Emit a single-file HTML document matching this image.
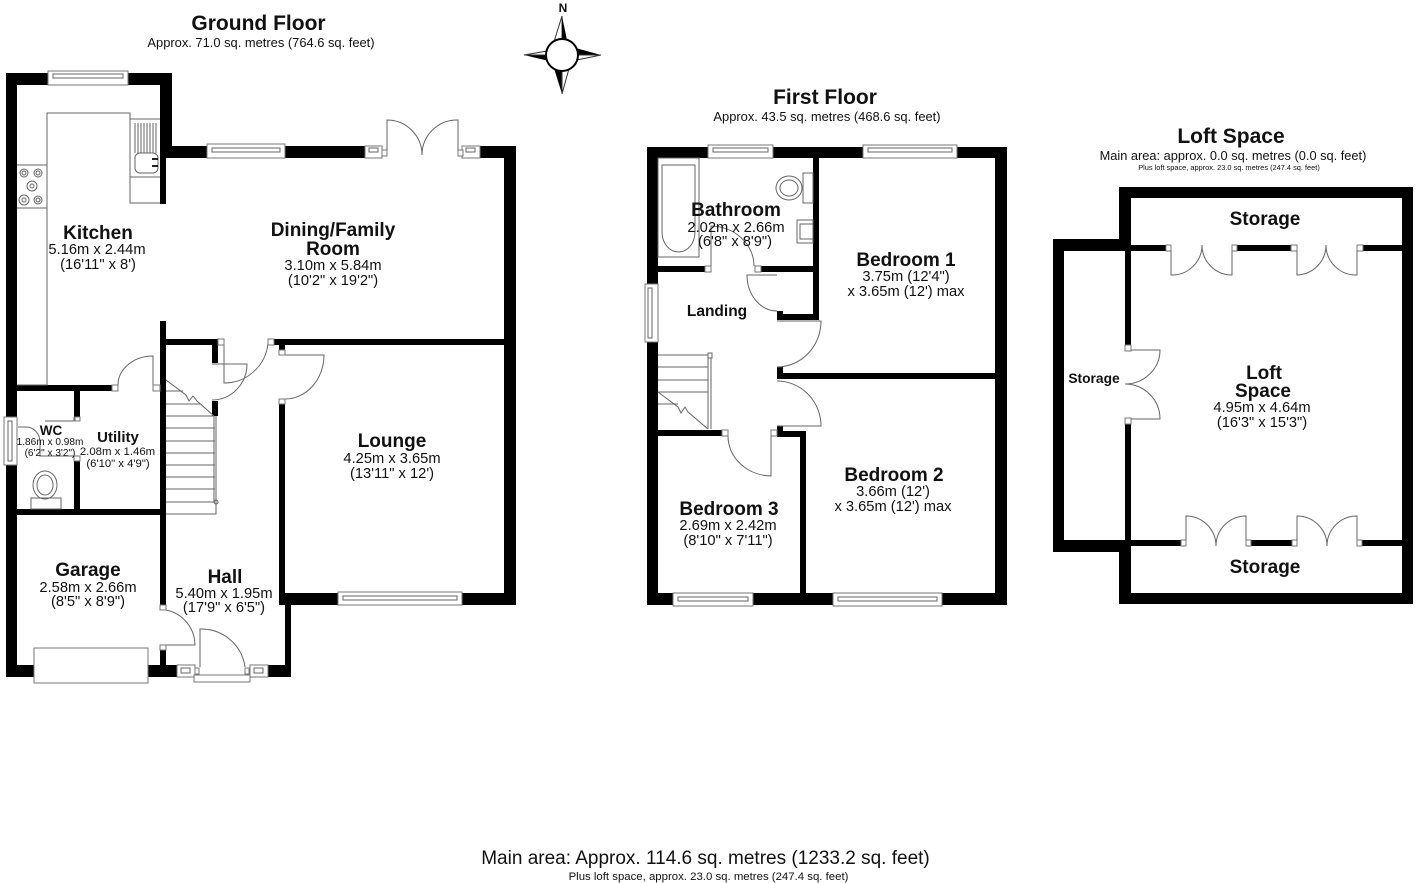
<!DOCTYPE html>
<html><head><meta charset="utf-8"><style>
html,body{margin:0;padding:0;background:#fff;width:1416px;height:883px;overflow:hidden}
svg{display:block}
text{font-family:"Liberation Sans",Arial,sans-serif;text-anchor:middle;fill:#111}
.r{font-weight:bold;font-size:19px}
.d{font-size:14.7px}
.l{fill:none;stroke:#666;stroke-width:1}
.w{fill:#000}
.f{fill:#fff;stroke:#777;stroke-width:1}
</style></head><body>
<svg width="1416" height="883" viewBox="0 0 1416 883" xmlns="http://www.w3.org/2000/svg">
<!-- GROUND FLOOR walls -->
<g class="w">
<rect x="6" y="73" width="11" height="604"/>
<rect x="6" y="73" width="166" height="12"/>
<rect x="160" y="73" width="12" height="85"/>
<rect x="160" y="146" width="6" height="58"/>
<rect x="160" y="146" width="205" height="12"/>
<rect x="480" y="146" width="36" height="12"/>
<rect x="504" y="146" width="12" height="459"/>
<rect x="274" y="339" width="230" height="6"/>
<rect x="279" y="345" width="6" height="5"/>
<rect x="279" y="404" width="6" height="189"/>
<rect x="279" y="593" width="237" height="12"/>
<rect x="285" y="593" width="6" height="84"/>
<rect x="268" y="665" width="23" height="12"/>
<rect x="6" y="665" width="28" height="12"/>
<rect x="148" y="665" width="29" height="12"/>
<rect x="160" y="321" width="6" height="284"/>
<rect x="160" y="650" width="6" height="15"/>
<rect x="166" y="339" width="52" height="6"/>
<rect x="212" y="345" width="6" height="18"/>
<rect x="212" y="401" width="6" height="15"/>
<rect x="17" y="385" width="95" height="6"/>
<rect x="74" y="391" width="6" height="26"/>
<rect x="74" y="461" width="6" height="48"/>
<rect x="17" y="509" width="149" height="6"/>
</g>
<!-- ground windows -->
<g>
<rect class="f" x="48" y="71" width="80" height="14"/><rect class="l" x="53" y="74" width="70" height="4"/>
<rect class="f" x="207" y="144" width="78" height="14"/><rect class="l" x="212" y="148" width="68" height="4"/>
<rect class="f" x="338" y="592" width="124" height="13"/><rect class="l" x="343" y="596" width="114" height="4"/>
<rect class="f" x="365" y="146" width="17" height="12"/><rect class="l" x="369" y="148" width="9" height="4"/>
<rect class="f" x="462" y="146" width="18" height="12"/><rect class="l" x="466" y="148" width="9" height="4"/>
<rect class="f" x="382" y="150" width="5" height="6"/><rect class="f" x="458" y="150" width="5" height="6"/>
<rect class="f" x="4" y="417" width="13" height="48"/><rect class="l" x="8" y="421" width="4" height="40"/>
<rect class="f" x="34" y="648" width="114" height="35"/>
<rect class="f" x="177" y="665" width="18" height="12"/><rect class="l" x="181" y="668" width="9" height="5"/>
<rect class="f" x="250" y="665" width="18" height="12"/><rect class="l" x="254" y="668" width="9" height="5"/>
<rect class="f" x="194" y="675" width="56" height="7"/>
<rect class="f" x="195" y="668" width="4" height="6"/><rect class="f" x="245" y="668" width="4" height="6"/>
</g>
<!-- ground doors -->
<g class="l">
<path d="M387 150V120A35 35 0 0 1 422 155"/>
<path d="M458 150V120A35 35 0 0 0 422 155"/>
<path d="M224 345V383A44 44 0 0 0 268 343"/>
<path d="M212 364H247A35 36 0 0 1 212 400"/>
<path d="M285 355H324A39 44 0 0 1 285 399"/>
<path d="M153 385V356A35 29 0 0 0 118 385"/>
<path d="M166 610A36 36 0 0 1 195 645H166"/>
<path d="M200 667V629A44 44 0 0 1 245 667"/>
<path d="M78 421H45"/>
<path d="M18 427H26A14 15 0 0 1 40 442V456H76"/>
</g>
<g class="f">
<rect x="112" y="385" width="6" height="6"/><rect x="153" y="385" width="7" height="6"/>
<rect x="218" y="339" width="6" height="6"/><rect x="268" y="339" width="6" height="6"/>
<rect x="279" y="350" width="6" height="5"/><rect x="279" y="399" width="6" height="5"/>
<rect x="74" y="417" width="6" height="4"/><rect x="74" y="456" width="6" height="5"/>
<rect x="160" y="605" width="6" height="5"/><rect x="160" y="645" width="6" height="5"/>
</g>
<!-- kitchen fittings -->
<g class="l">
<path d="M17 385H47V113H130V203H160"/>
<path d="M130 119H160M130 177H160M17 165H47M17 208H47"/>
<path d="M135 123V153M138 123V153M141 123V153M144 123V153M147 123V153M150 123V153M153 123V153M156 123V153"/>
<rect x="135" y="153" width="23" height="20" rx="5"/>
<path d="M152 159H158M152 166H158" stroke="#222" stroke-width="2"/>
<circle cx="24" cy="173" r="4"/><circle cx="24" cy="173" r="2"/>
<circle cx="38" cy="173" r="4"/><circle cx="38" cy="173" r="2"/>
<circle cx="32" cy="186" r="5"/><circle cx="32" cy="186" r="2"/>
<circle cx="24" cy="200" r="5"/><circle cx="24" cy="200" r="2"/>
<circle cx="38" cy="200" r="4"/><circle cx="38" cy="200" r="2"/>
<!-- stairs -->
<path d="M166 391H183M166 404H200M166 416H214M166 428H215M166 441H215M166 453H215M166 465H215M166 477H215M166 489H215M166 502H215M166 514H216V416"/>
<path d="M214 416V502"/>
<path d="M166 380L186 395L189 401L193 396L197 401L214 416"/>
<circle cx="216" cy="502" r="2"/>
<!-- wc -->
<ellipse cx="45" cy="485" rx="12" ry="14"/><ellipse cx="45" cy="485" rx="8" ry="10"/>
<rect x="31" y="498" width="30" height="11"/>
<path d="M75 421V417"/>
</g>
<!-- FIRST FLOOR walls -->
<g class="w">
<rect x="647" y="147" width="360" height="11"/>
<rect x="647" y="147" width="11" height="458"/>
<rect x="995" y="147" width="12" height="458"/>
<rect x="647" y="593" width="360" height="12"/>
<rect x="813" y="158" width="6" height="162"/>
<rect x="658" y="266" width="47" height="6"/>
<rect x="761" y="266" width="53" height="6"/>
<rect x="777" y="314" width="42" height="6"/>
<rect x="777" y="311" width="6" height="4"/>
<rect x="777" y="367" width="6" height="12"/>
<rect x="777" y="373" width="218" height="6"/>
<rect x="777" y="426" width="6" height="10"/>
<rect x="777" y="431" width="29" height="6"/>
<rect x="800" y="431" width="6" height="162"/>
<rect x="658" y="430" width="64" height="6"/>
</g>
<g>
<rect class="f" x="708" y="145" width="65" height="13"/><rect class="l" x="713" y="148" width="55" height="4"/>
<rect class="f" x="863" y="145" width="94" height="13"/><rect class="l" x="868" y="148" width="84" height="4"/>
<rect class="f" x="673" y="593" width="80" height="13"/><rect class="l" x="678" y="597" width="70" height="4"/>
<rect class="f" x="833" y="593" width="109" height="13"/><rect class="l" x="838" y="597" width="99" height="4"/>
<rect class="f" x="645" y="284" width="13" height="58"/><rect class="l" x="648" y="288" width="4" height="50"/>
<rect class="f" x="705" y="266" width="6" height="6"/><rect class="f" x="755" y="266" width="6" height="6"/>
<rect class="f" x="722" y="430" width="6" height="6"/><rect class="f" x="771" y="430" width="6" height="6"/>
</g>
<g class="l">
<path d="M711 266V226A44 40 0 0 1 754 266"/>
<path d="M777 275H747A30 36 0 0 0 777 311"/>
<path d="M777 321H821A44 46 0 0 1 777 367"/>
<path d="M777 381A44 45 0 0 1 821 426H777"/>
<path d="M728 436A44 40 0 0 0 771 476V436"/>
<path d="M658 355H708M658 367H708M658 380H708M658 392H708M658 404H678"/>
<path d="M658 392L678 407L681 413L685 407L688 412L708 429M708 358V429M711 358V429"/>
<rect x="708" y="353" width="4" height="5"/>
<!-- bath -->
<rect x="658" y="158" width="41" height="99"/>
<path d="M662 165H695V232A16.500 20 0 0 1 662 232Z"/>
<!-- wc -->
<ellipse cx="789" cy="188" rx="13" ry="12"/><ellipse cx="789" cy="188" rx="9" ry="8"/>
<rect x="803" y="173" width="10" height="30"/>
<rect x="797" y="220" width="16" height="23"/>
<rect x="800" y="224" width="13" height="15"/>
</g>
<!-- LOFT walls -->
<g class="w">
<rect x="1119" y="187" width="294" height="11"/>
<rect x="1119" y="187" width="12" height="58"/>
<rect x="1402" y="187" width="11" height="417"/>
<rect x="1119" y="593" width="294" height="11"/>
<rect x="1119" y="540" width="12" height="64"/>
<rect x="1053" y="239" width="72" height="12"/>
<rect x="1053" y="239" width="11" height="313"/>
<rect x="1053" y="540" width="72" height="12"/>
<rect x="1125" y="239" width="6" height="106"/>
<rect x="1125" y="424" width="6" height="122"/>
<rect x="1131" y="245" width="35" height="6"/>
<rect x="1237" y="245" width="54" height="6"/>
<rect x="1363" y="245" width="39" height="6"/>
<rect x="1131" y="540" width="50" height="6"/>
<rect x="1251" y="540" width="41" height="6"/>
<rect x="1362" y="540" width="40" height="6"/>
</g>
<g class="f">
<rect x="1166" y="245" width="5" height="6"/><rect x="1232" y="245" width="5" height="6"/>
<rect x="1291" y="245" width="6" height="6"/><rect x="1357" y="245" width="6" height="6"/>
<rect x="1181" y="540" width="5" height="6"/><rect x="1246" y="540" width="5" height="6"/>
<rect x="1292" y="540" width="5" height="6"/><rect x="1357" y="540" width="5" height="6"/>
<rect x="1125" y="345" width="6" height="6"/><rect x="1125" y="418" width="6" height="6"/>
</g>
<g class="l">
<path d="M1171 251V275A30 30 0 0 0 1202 245"/>
<path d="M1232 251V275A30 30 0 0 1 1202 245"/>
<path d="M1297 251V275A30 30 0 0 0 1326 245"/>
<path d="M1357 251V275A30 30 0 0 1 1326 245"/>
<path d="M1186 540V516A30 30 0 0 1 1216 546"/>
<path d="M1246 540V516A30 30 0 0 0 1216 546"/>
<path d="M1297 540V516A30 30 0 0 1 1327 546"/>
<path d="M1357 540V516A30 30 0 0 0 1327 546"/>
<path d="M1131 350H1160A35 34 0 0 1 1125 384"/>
<path d="M1131 419H1160A35 35 0 0 0 1125 384"/>
</g>
<!-- compass -->
<g>
<path d="M562 16L562 45L553 45Z" fill="#fff" stroke="#333" stroke-width="1"/>
<path d="M562 16L562 45L568 45Z" fill="#000"/>
<path d="M601 55L572 55L572 47Z" fill="#000"/>
<path d="M601 55L572 55L572 61Z" fill="#fff" stroke="#333" stroke-width="1"/>
<path d="M562 94L562 65L553 65Z" fill="#000"/>
<path d="M562 94L562 65L570 65Z" fill="#fff" stroke="#333" stroke-width="1"/>
<path d="M524 55L553 55L553 62Z" fill="#000"/>
<path d="M524 55L553 55L553 50Z" fill="#fff" stroke="#333" stroke-width="1"/>
<circle cx="562" cy="55" r="16" fill="#fff" stroke="#000" stroke-width="2"/>
<text x="563" y="12" style="font-size:12px;font-weight:bold">N</text>
</g>
<!-- text -->
<text x="258.500" y="30" style="font-size:21px;font-weight:bold">Ground Floor</text>
<text x="261" y="47" style="font-size:12.900px">Approx. 71.0 sq. metres (764.6 sq. feet)</text>
<text x="825" y="104" style="font-size:21px;font-weight:bold">First Floor</text>
<text x="827" y="121" style="font-size:12.900px">Approx. 43.5 sq. metres (468.6 sq. feet)</text>
<text x="1231" y="143" style="font-size:21px;font-weight:bold">Loft Space</text>
<text x="1233" y="160" style="font-size:12.800px">Main area: approx. 0.0 sq. metres (0.0 sq. feet)</text>
<text x="1229" y="170" style="font-size:7.400px">Plus loft space, approx. 23.0 sq. metres (247.4 sq. feet)</text>
<text x="98" y="239" class="r">Kitchen</text>
<text x="97" y="254" class="d">5.16m x 2.44m</text>
<text x="98" y="269" class="d">(16'11" x 8')</text>
<text x="333" y="236" class="r">Dining/Family</text>
<text x="333" y="255" class="r">Room</text>
<text x="333" y="270" class="d">3.10m x 5.84m</text>
<text x="333" y="285" class="d">(10'2" x 19'2")</text>
<text x="392" y="447" class="r">Lounge</text>
<text x="392" y="463" class="d">4.25m x 3.65m</text>
<text x="392" y="478" class="d">(13'11" x 12')</text>
<text x="51" y="435" style="font-size:13.500px;font-weight:bold">WC</text>
<text x="50" y="445" style="font-size:10.100px">1.86m x 0.98m</text>
<text x="50" y="456" style="font-size:10.100px">(6'2" x 3'2")</text>
<text x="118" y="442" style="font-size:15px;font-weight:bold">Utility</text>
<text x="117.500" y="455" style="font-size:11.400px">2.08m x 1.46m</text>
<text x="118" y="467" style="font-size:11.300px">(6'10" x 4'9")</text>
<text x="88" y="576" class="r">Garage</text>
<text x="88" y="592" class="d">2.58m x 2.66m</text>
<text x="88" y="606" class="d">(8'5" x 8'9")</text>
<text x="225" y="583" class="r">Hall</text>
<text x="224" y="598" class="d">5.40m x 1.95m</text>
<text x="224" y="612" class="d">(17'9" x 6'5")</text>
<text x="736" y="216" class="r">Bathroom</text>
<text x="736" y="232" class="d">2.02m x 2.66m</text>
<text x="735" y="246" class="d">(6'8" x 8'9")</text>
<text x="717" y="316" style="font-size:15.500px;font-weight:bold">Landing</text>
<text x="906" y="266" class="r">Bedroom 1</text>
<text x="906" y="281" class="d">3.75m (12'4")</text>
<text x="906" y="296" class="d">x 3.65m (12') max</text>
<text x="894" y="481" class="r">Bedroom 2</text>
<text x="893" y="496" class="d">3.66m (12')</text>
<text x="893" y="511" class="d">x 3.65m (12') max</text>
<text x="729" y="515" class="r">Bedroom 3</text>
<text x="728" y="530" class="d">2.69m x 2.42m</text>
<text x="728" y="545" class="d">(8'10" x 7'11")</text>
<text x="1265" y="225" class="r">Storage</text>
<text x="1265" y="573" class="r">Storage</text>
<text x="1094" y="383" style="font-size:13.800px;font-weight:bold">Storage</text>
<text x="1264" y="379" class="r">Loft</text>
<text x="1263" y="397" class="r">Space</text>
<text x="1262" y="412" class="d">4.95m x 4.64m</text>
<text x="1262" y="427" class="d">(16'3" x 15'3")</text>
<text x="705.500" y="864" style="font-size:19px">Main area: Approx. 114.6 sq. metres (1233.2 sq. feet)</text>
<text x="708.500" y="880" style="font-size:11.400px">Plus loft space, approx. 23.0 sq. metres (247.4 sq. feet)</text>
</svg>
</body></html>
